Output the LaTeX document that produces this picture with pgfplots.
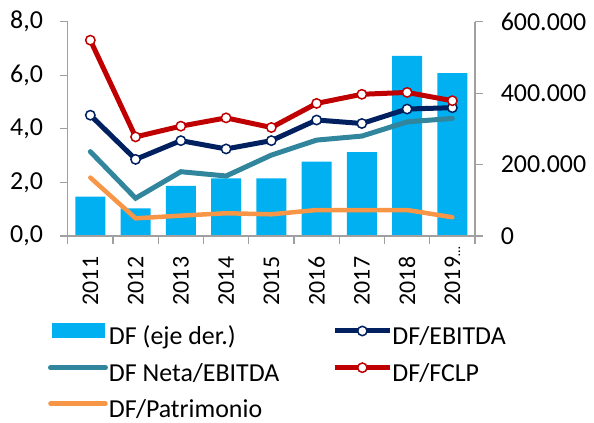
\documentclass[border=0pt]{standalone}
\usepackage{fontspec}
\setmainfont{Carlito}
\usepackage{pgfplots}
\pgfplotsset{compat=1.18}
\definecolor{cbar}{HTML}{00B0F0}
\definecolor{cebitda}{HTML}{002060}
\definecolor{cneta}{HTML}{31859C}
\definecolor{cfclp}{HTML}{C00000}
\definecolor{cpatr}{HTML}{F79646}
\definecolor{axgray}{HTML}{A0A0A0}
\pgfplotsset{
  common/.style={
    at={(0,0)}, anchor=south west,
    scale only axis, width=407.3bp, height=214.3bp,
    xmin=-0.5, xmax=8.5,
    tick align=outside, major tick length=8bp,
    axis line style={draw=axgray, line width=1.2bp},
    tick style={draw=axgray, line width=1.2bp},
    scaled y ticks=false,
  },
  linelegend/.style={legend image code/.code={
    \draw[##1] plot coordinates {(0bp,8bp) (27.5bp,8bp) (55bp,8bp)};
    \pgfsetbaseline{0bp}}},
  marklegend/.style={legend image code/.code={
    \draw[##1,mark repeat=2,mark phase=2] plot coordinates {(0bp,8bp) (27.5bp,8bp) (55bp,8bp)};
    \pgfsetbaseline{0bp}}},
}
\begin{document}
\fontsize{26}{31}\selectfont
\begin{tikzpicture}
\path[use as bounding box] (-67.7bp,-187bp) rectangle (526.3bp,236bp);
\begin{axis}[common,
  ymin=0, ymax=600000,
  axis x line=none, axis y line*=right,
  ytick={0,200000,400000,600000},
  yticklabels={0,200.000,400.000,600.000},
  yticklabel style={anchor=west, xshift=9bp},
]
\addplot[ybar, bar width=30bp, fill=cbar, draw=none] coordinates {
 (0,110000) (1,77500) (2,140000) (3,161500) (4,161500) (5,208000) (6,235000) (7,504000) (8,456000)};
\end{axis}
\begin{axis}[common,
  ymin=0, ymax=8,
  axis x line*=bottom, axis y line*=left,
  ytick={0,2,4,6,8},
  yticklabels={{0,0},{2,0},{4,0},{6,0},{8,0}},
  yticklabel style={anchor=east, xshift=-8bp},
  xtick={-0.5,0.5,1.5,2.5,3.5,4.5,5.5,6.5,7.5,8.5},
  xticklabels={},
  extra x ticks={0,1,2,3,4,5,6,7,8},
  extra x tick labels={2011,2012,2013,2014,2015,2016,2017,2018,2019\rlap{\fontsize{14}{14}\selectfont…}},
  extra x tick style={major tick length=0pt, tick label style={rotate=90, anchor=east, xshift=-12bp,
    font=\fontsize{24}{29}\selectfont}},
  legend columns=2,
  legend style={at={(-0.0484,-0.405)}, anchor=north west, draw=none, fill=none,
    inner sep=0pt, outer sep=0pt, row sep=12bp,
    nodes={inner sep=0pt, outer sep=0pt, text height=18bp, text depth=6bp},
    /tikz/column 1/.style={column sep=1bp},
    /tikz/column 2/.style={column sep=53bp},
    /tikz/column 3/.style={column sep=0bp}},
  legend cell align=left,
]
\addlegendimage{legend image code/.code={\fill[cbar] (2bp,2bp) rectangle (54bp,16bp);\pgfsetbaseline{0bp}}}
\addlegendentry{DF (eje der.)}
\addplot[marklegend, cebitda, line width=5bp, mark=*, mark size=4.7bp,
  mark options={fill=white, draw=cebitda, line width=1.5bp}] coordinates {
 (0,4.51) (1,2.86) (2,3.56) (3,3.25) (4,3.56) (5,4.33) (6,4.20) (7,4.74) (8,4.79)};
\addlegendentry{DF/EBITDA}
\addplot[linelegend, cneta, line width=5bp, line cap=round] coordinates {
 (0,3.15) (1,1.41) (2,2.40) (3,2.24) (4,3.02) (5,3.58) (6,3.73) (7,4.26) (8,4.39)};
\addlegendentry{DF Neta/EBITDA}
\addplot[marklegend, cfclp, line width=5bp, mark=*, mark size=4.7bp,
  mark options={fill=white, draw=cfclp, line width=1.5bp}] coordinates {
 (0,7.31) (1,3.70) (2,4.10) (3,4.41) (4,4.05) (5,4.95) (6,5.29) (7,5.36) (8,5.05)};
\addlegendentry{DF/FCLP}
\addplot[linelegend, cpatr, line width=4.5bp, line cap=round] coordinates {
 (0,2.18) (1,0.66) (2,0.76) (3,0.85) (4,0.81) (5,0.97) (6,0.97) (7,0.97) (8,0.70)};
\addlegendentry{DF/Patrimonio}
\end{axis}
\end{tikzpicture}
\end{document}
